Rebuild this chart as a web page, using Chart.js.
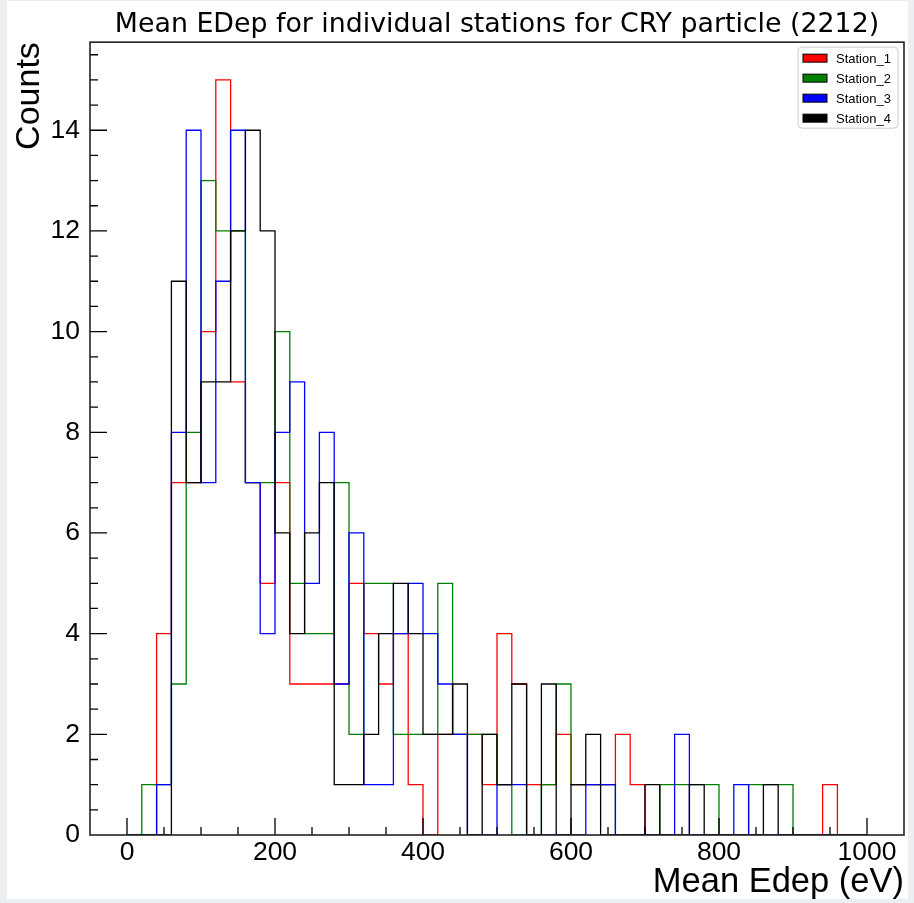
<!DOCTYPE html>
<html>
<head>
<meta charset="utf-8">
<title>Mean EDep per station</title>
<script src="https://cdn.jsdelivr.net/npm/chart.js@4.4.1/dist/chart.umd.min.js"></script>
<style>
  html, body { margin: 0; padding: 0; background: #eceff1; }
  #wrap { position: relative; width: 914px; height: 903px; }
</style>
</head>
<body>
<div id="wrap"><canvas id="Chart1" width="914" height="903"></canvas></div>
<script>
// histogram binning (eV)
var binStart = 0;
var binWidth = 20;

// counts per 20 eV bin, 0 .. 1000 eV
var station1 = [0,0,4,7,7,10,15,9,7,5, 7,3,3,3,3,5,4,3,4,1, 0,2,2,2,1,4,3,1,1,2, 1,1,1,2,1,0,0,0,0,0, 0,0,0,0,0,0,0,1,0,0];
var station2 = [0,1,1,3,8,13,12,12,7,7, 10,5,4,4,7,2,5,5,2,2, 2,5,2,2,2,1,0,0,1,3, 1,1,1,0,0,0,1,1,1,1, 0,0,1,1,1,0,0,0,0,0];
var station3 = [0,0,1,8,14,7,11,14,7,4, 8,9,5,8,3,6,1,1,4,5, 4,3,2,0,0,1,1,0,0,0, 0,1,1,0,0,0,0,2,0,0, 0,1,0,0,0,0,0,0,0,0];
var station4 = [0,0,0,11,7,9,9,12,14,12, 6,4,6,7,1,1,2,4,5,4, 2,2,3,0,2,1,3,0,3,0, 1,2,0,0,0,1,0,0,1,0, 0,0,0,1,0,0,0,0,0,0];

var stationNames = ['Station_1', 'Station_2', 'Station_3', 'Station_4'];
var stationColors = ['#ff0000', '#008000', '#0000ff', '#000000'];

var xTicks = [0, 200, 400, 600, 800, 1000];
var yTicks = [0, 2, 4, 6, 8, 10, 12, 14];
var xMinorStep = 50;
var yMinorStep = 0.5;

// step outline: one point per bin edge, closed back to zero at the last edge
function stepPoints(counts) {
	var pts = counts.map(function (c, i) {
		return { x: binStart + i * binWidth, y: c };
	});
	pts.push({ x: binStart + counts.length * binWidth, y: 0 });
	return pts;
}

// frame, inward ticks and the boxed legend
var histDecor = {
	id: 'histDecor',
	beforeDraw: function (chart) {
		var ctx = chart.ctx;
		ctx.save();
		ctx.fillStyle = '#eceff1';
		ctx.fillRect(0, 0, chart.width, chart.height);
		ctx.fillStyle = '#ffffff';
		ctx.fillRect(7, 1, chart.width - 13, chart.height - 5);
		ctx.restore();
	},
	afterDatasetsDraw: function (chart) {
		var ctx = chart.ctx, ca = chart.chartArea;
		var xs = chart.scales.x, ys = chart.scales.y;
		ctx.save();
		ctx.strokeStyle = '#000';
		ctx.lineWidth = 1.3;
		ctx.beginPath();
		var v, p;
		for (v = xs.min + xMinorStep; v < xs.max; v += xMinorStep) {
			p = xs.getPixelForValue(v);
			var len = xTicks.indexOf(v) >= 0 ? 17 : 8;
			ctx.moveTo(p, ca.bottom);
			ctx.lineTo(p, ca.bottom - len);
		}
		for (v = ys.min + yMinorStep; v < ys.max; v += yMinorStep) {
			p = ys.getPixelForValue(v);
			var len2 = yTicks.indexOf(v) >= 0 ? 17 : 8;
			ctx.moveTo(ca.left, p);
			ctx.lineTo(ca.left + len2, p);
		}
		ctx.stroke();

		ctx.lineWidth = 1.6;
		ctx.strokeStyle = '#222';
		ctx.strokeRect(ca.left, ca.top, ca.right - ca.left, ca.bottom - ca.top);
		ctx.restore();
	},
	afterDraw: function (chart) {
		var ctx = chart.ctx, ca = chart.chartArea;
		var bx = ca.right - 106, by = ca.top + 5, bw = 100, bh = 81;
		ctx.save();
		ctx.fillStyle = 'rgba(255,255,255,0.85)';
		ctx.strokeStyle = '#cccccc';
		ctx.lineWidth = 1;
		ctx.beginPath();
		ctx.roundRect(bx, by, bw, bh, 4);
		ctx.fill();
		ctx.stroke();

		ctx.font = '13px "Liberation Sans"';
		ctx.textBaseline = 'middle';
		chart.data.datasets.forEach(function (ds, i) {
			var cy = by + 11 + i * 20;
			ctx.fillStyle = ds.borderColor;
			ctx.fillRect(bx + 5, cy - 4, 24, 8);
			ctx.strokeStyle = '#000';
			ctx.strokeRect(bx + 5, cy - 4, 24, 8);
			ctx.fillStyle = '#000';
			ctx.fillText(ds.label, bx + 38, cy + 1);
		});
		ctx.restore();
	}
};

var stations = [station1, station2, station3, station4];

var context = document.getElementById('Chart1').getContext('2d');

var myChart = new Chart(context, {

	type: 'line',

	data: {
		datasets: stations.map(function (counts, i) {
			return {
				label: stationNames[i],
				data: stepPoints(counts),
				borderColor: stationColors[i],
				backgroundColor: stationColors[i],
				borderWidth: 1.3,
				// horizontal at the bin's own count, then vertical at the next edge
				stepped: 'before',
				pointRadius: 0,
				fill: false,
				// later stations drawn on top
				order: stations.length - i
			};
		})
	},

	options: {
		responsive: false,
		animation: false,
		layout: { padding: { left: 0, right: 10, top: 0, bottom: 0 } },
		plugins: {
			legend: { display: false },
			tooltip: { enabled: false },
			title: {
				display: true,
				text: 'Mean EDep for individual stations for CRY particle (2212)',
				fullSize: false,
				color: '#000',
				font: { family: 'DejaVu Sans', size: 26.8, weight: 'normal' },
				padding: { top: 9, bottom: 1 }
			}
		},
		scales: {
			x: {
				type: 'linear',
				min: -50,
				max: 1050,
				bounds: 'data',
				grid: { display: false, drawTicks: false },
				border: { display: false },
				ticks: {
					color: '#000',
					padding: 2,
					maxRotation: 0,
					autoSkip: false,
					font: { family: 'Liberation Sans', size: 26.5 },
					callback: function (value) { return String(value); }
				},
				afterBuildTicks: function (scale) {
					scale.ticks = xTicks.map(function (v) { return { value: v }; });
				},
				afterFit: function (scale) { scale.height = 68; },
				title: {
					display: true,
					text: 'Mean Edep (eV)',
					align: 'end',
					color: '#000',
					font: { family: 'Liberation Sans', size: 34.5 },
					padding: { top: 0, bottom: 0 }
				}
			},
			y: {
				min: 0,
				max: 15.75,
				bounds: 'data',
				grid: { display: false, drawTicks: false },
				border: { display: false },
				ticks: {
					color: '#000',
					padding: 10,
					font: { family: 'Liberation Sans', size: 26.5 },
					callback: function (value) { return String(value); }
				},
				afterBuildTicks: function (scale) {
					scale.ticks = yTicks.map(function (v) { return { value: v }; });
				},
				afterFit: function (scale) { scale.width = 90; },
				title: {
					display: true,
					text: 'Counts',
					align: 'end',
					color: '#000',
					font: { family: 'Liberation Sans', size: 34 },
					padding: { top: 9, bottom: 0 }
				}
			}
		}
	},

	plugins: [histDecor]
});
</script>
</body>
</html>
